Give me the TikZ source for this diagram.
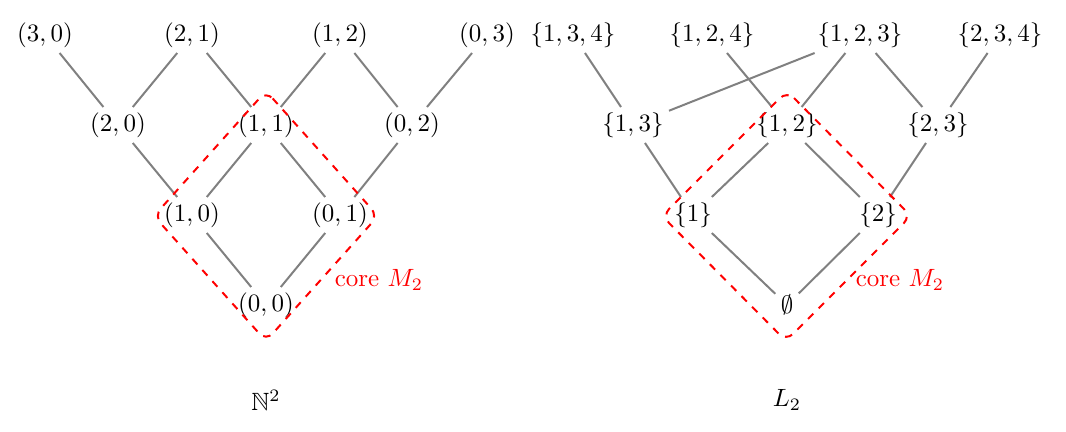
\documentclass[tikz,border=0pt]{standalone}
\usepackage{amssymb}
\begin{document}
\begin{tikzpicture}[x=0.01407cm,y=-0.01407cm,
  elem/.style={inner sep=2pt},
  edge/.style={draw=gray,line width=0.8pt},
  core/.style={draw=red,dashed,line width=0.8pt,rounded corners=4pt},
  corelabel/.style={text=red,anchor=west}]
\useasboundingbox (0,0) rectangle (1066,431);
% left lattice N^2
\node[elem] (a30) at (45,35) {$(3,0)$};
\node[elem] (a21) at (192,35) {$(2,1)$};
\node[elem] (a12) at (340,35) {$(1,2)$};
\node[elem] (a03) at (487,35) {$(0,3)$};
\node[elem] (a20) at (118,125) {$(2,0)$};
\node[elem] (a11) at (266,125) {$(1,1)$};
\node[elem] (a02) at (412,125) {$(0,2)$};
\node[elem] (a10) at (192,215) {$(1,0)$};
\node[elem] (a01) at (340,215) {$(0,1)$};
\node[elem] (a00) at (266,305) {$(0,0)$};
\foreach \u/\v in {a30/a20,a21/a20,a21/a11,a12/a11,a12/a02,a03/a02,a20/a10,a11/a10,a11/a01,a02/a01,a10/a00,a01/a00}
  \path[edge] (\u) -- (\v);
\draw[core] (266,91) -- (378,216) -- (266,341) -- (154,216) -- cycle;
\node[corelabel] (lc) at (326,280) {core $M_2$};
\node (lN) at (266,400) {$\mathbb{N}^2$};
% right lattice L_2
\node[elem] (b134) at (573,35) {$\{1,3,4\}$};
\node[elem] (b124) at (712,35) {$\{1,2,4\}$};
\node[elem] (b123) at (860,35) {$\{1,2,3\}$};
\node[elem] (b234) at (1000,35) {$\{2,3,4\}$};
\node[elem] (b13) at (633,125) {$\{1,3\}$};
\node[elem] (b12) at (787,125) {$\{1,2\}$};
\node[elem] (b23) at (938,125) {$\{2,3\}$};
\node[elem] (b1) at (693,215) {$\{1\}$};
\node[elem] (b2) at (878,215) {$\{2\}$};
\node[elem] (b0) at (787,305) {$\emptyset$};
\foreach \u/\v in {b134/b13,b124/b12,b123/b13,b123/b12,b123/b23,b234/b23,b13/b1,b12/b1,b12/b2,b23/b2,b1/b0,b2/b0}
  \path[edge] (\u) -- (\v);
\draw[core] (787,91) -- (911,216) -- (786,341) -- (662,216) -- cycle;
\node[corelabel] (rc) at (847,280) {core $M_2$};
\node (rL) at (787,400) {$L_2$};
\end{tikzpicture}
\end{document}
